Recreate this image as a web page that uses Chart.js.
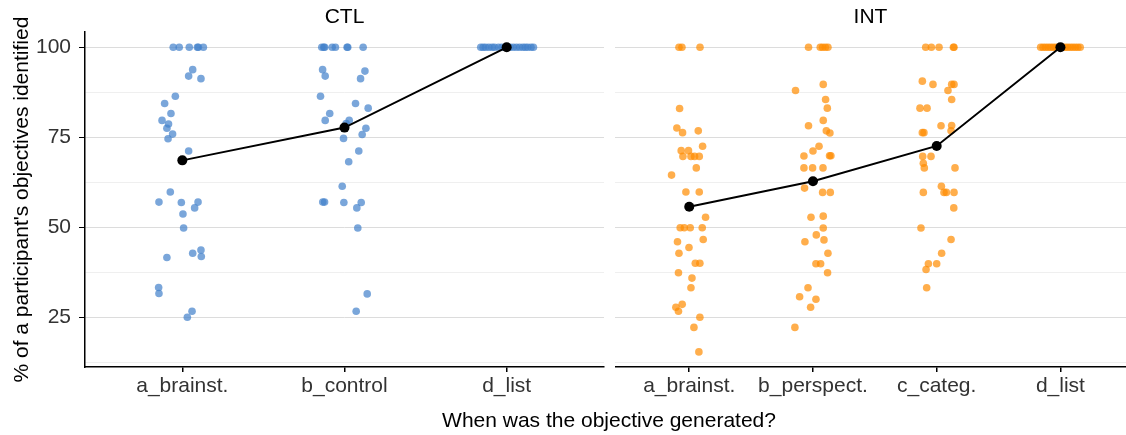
<!DOCTYPE html>
<html>
<head>
<meta charset="utf-8">
<script src="https://cdn.jsdelivr.net/npm/chart.js@4.4.1/dist/chart.umd.min.js"></script>
<style>
  html, body { margin: 0; padding: 0; background: #fff; }
  #wrap { position: relative; width: 1126px; height: 435px; overflow: hidden; }
  .panel { position: absolute; top: 0; height: 435px; }
  #xTitle { position: absolute; top: 408px; left: 609px; transform: translateX(-50%);
    font: 21px 'Liberation Sans', Arial, sans-serif; color: #000; white-space: nowrap; }
</style>
</head>
<body>
<div id="wrap">
  <div class="panel" style="left:0;width:607px"><canvas id="ctlChart"></canvas></div>
  <div class="panel" style="left:615px;width:511px"><canvas id="intChart"></canvas></div>
  <div id="xTitle">When was the objective generated?</div>
</div>
<script>
// categories per facet
const ctlCategories = ['a_brainst.', 'b_control', 'd_list'];
const intCategories = ['a_brainst.', 'b_perspect.', 'c_categ.', 'd_list'];
const yTicks = [25, 50, 75, 100];

// mean per category (black line)
const ctlMeans = [68.6, 77.7, 100];
const intMeans = [55.7, 62.8, 72.6, 100];

// participants: [jitter, % identified]
const ctlBrainst = [[-0.056,100],[-0.019,100],[0.043,100],[0.093,100],[0.099,100],[0.13,100],
  [0.064,93.8],[0.039,92.0],[0.115,91.3],[-0.043,86.4],[-0.109,84.4],[-0.070,81.6],[-0.125,79.7],
  [-0.085,78.7],[-0.095,77.5],[-0.060,75.9],[-0.088,74.6],[0.039,71.2],[-0.074,59.8],[-0.144,57.0],
  [-0.006,56.9],[0.097,57.0],[0.076,55.4],[0.004,53.7],[0.008,49.8],[-0.095,41.6],[0.064,42.8],
  [0.115,43.7],[0.117,41.9],[-0.146,33.3],[-0.144,31.6],[0.060,26.7],[0.031,25.0]];
const ctlControl = [[-0.14,100],[-0.128,100],[-0.122,100],[-0.076,100],[-0.056,100],[0.016,100],[0.02,100],[0.115,100],
  [-0.135,93.8],[-0.119,92.0],[0.126,93.4],[0.099,91.3],[-0.148,86.4],[0.068,84.4],[0.146,83.1],
  [-0.091,81.6],[-0.119,79.7],[0.029,79.7],[0.010,78.8],[0.132,77.5],[0.109,75.8],[-0.006,74.7],
  [0.088,71.2],[0.026,68.2],[-0.014,61.4],[-0.134,57.0],[-0.123,57.0],[-0.004,56.9],[0.103,56.9],
  [0.076,55.4],[0.082,49.8],[0.140,31.5],[0.072,26.7]];
const ctlList = [[-0.16,100],[-0.145,100],[-0.13,100],[-0.11,100],[-0.09,100],[-0.075,100],[-0.05,100],
  [-0.03,100],[-0.01,100],[0.005,100],[0.02,100],[0.04,100],[0.06,100],[0.08,100],[0.1,100],
  [0.115,100],[0.13,100],[0.15,100],[0.165,100]];

const intBrainst = [[-0.083,100],[-0.059,100],[0.087,100],
  [-0.078,83.0],[-0.1,77.6],[-0.054,76.3],[0.073,76.8],[0.108,72.5],[-0.065,71.3],[-0.006,71.3],
  [-0.051,69.7],[0.014,69.7],[0.043,69.7],[0.081,69.7],[0.057,66.5],[-0.143,64.5],[-0.027,59.8],
  [0.081,59.8],[0.132,52.8],[-0.073,49.9],[-0.04,49.9],[0.008,49.9],[0.105,49.9],[-0.095,46.0],
  [0.113,46.6],[-0.083,42.8],[-0.002,44.4],[0.049,40.0],[0.086,40.0],[-0.087,37.4],[0.022,35.9],
  [0.014,33.2],[-0.057,28.6],[-0.108,27.8],[-0.087,26.7],[0.086,25.0],[0.038,22.2],[0.078,15.4]];
const intPerspect = [[-0.036,100],[0.059,100],[0.078,100],[0.1,100],[0.121,100],
  [0.083,89.7],[-0.141,88.0],[0.102,85.5],[0.116,83.1],[0.083,79.7],[-0.036,78.2],[0.108,76.8],
  [0.137,76.2],[0.049,72.5],[0,71.2],[-0.073,69.8],[0.134,69.9],[0.145,69.9],[-0.073,66.5],
  [-0.003,66.5],[0.081,66.5],[-0.068,60.9],[0.078,59.7],[0.140,59.7],[-0.016,52.8],[0.083,53.1],
  [0.083,49.8],[-0.065,46.0],[0.027,47.9],[0.089,46.5],[0.121,42.8],[0.024,39.9],[0.062,39.9],
  [0.118,37.4],[-0.04,33.2],[-0.108,30.7],[0.024,30.0],[-0.019,27.8],[-0.146,22.2]];
const intCateg = [[-0.089,100],[-0.043,100],[0.019,100],[0.135,100],[0.14,100],
  [-0.116,90.6],[-0.03,89.7],[0.121,89.7],[0.14,89.7],[0.091,88.0],[0.121,85.5],[-0.135,83.1],
  [-0.078,83.1],[0.035,78.2],[0.121,78.3],[0.116,76.8],[-0.116,76.3],[-0.103,76.3],[-0.113,69.7],
  [-0.046,69.7],[-0.108,67.8],[-0.1,66.5],[0.148,66.5],[0.038,61.4],[-0.108,59.7],[0.059,59.7],
  [0.078,59.7],[0.14,59.7],[0.138,55.4],[-0.127,49.8],[0.116,46.6],[0.04,42.8],[-0.067,39.9],
  [0,39.9],[-0.086,38.3],[-0.081,33.2]];
const intList = [[-0.16,100],[-0.14,100],[-0.12,100],[-0.1,100],[-0.08,100],[-0.06,100],[-0.04,100],
  [-0.02,100],[0,100],[0.02,100],[0.04,100],[0.06,100],[0.08,100],[0.1,100],[0.12,100],
  [0.14,100],[0.16,100]];

Chart.defaults.font.family = "'Liberation Sans', Arial, sans-serif";
Chart.defaults.animation = false;

const blue = 'rgba(66, 128, 202, 0.7)';
const orange = 'rgba(255, 140, 0, 0.7)';

function toPoints(pairs, pos) {
    return pairs.map(p => ({ x: pos + p[0], y: p[1] }));
}

function makeChart(id, title, categories, groups, means, color, xMax, showY) {
    const datasets = [{
        type: 'line',
        data: means.map((m, i) => ({ x: i + 1, y: m })),
        borderColor: '#000',
        borderWidth: 2,
        backgroundColor: '#000',
        pointRadius: 5,
        pointBorderWidth: 0,
        order: 0
    }];
    groups.forEach((g, i) => {
        datasets.push({
            type: 'scatter',
            data: toPoints(g, i + 1),
            backgroundColor: color,
            borderWidth: 0,
            pointRadius: 3.8,
            order: 1
        });
    });

    return new Chart(document.getElementById(id), {
        data: { datasets },
        options: {
            responsive: true,
            maintainAspectRatio: false,
            layout: { autoPadding: false, padding: { left: 0, right: showY ? 3 : 0, top: 0, bottom: 0 } },
            plugins: {
                legend: { display: false },
                tooltip: { enabled: false },
                title: {
                    display: true,
                    text: title,
                    fullSize: false,
                    color: '#000',
                    font: { size: 21, weight: 'normal' },
                    padding: { top: 5, bottom: 2 }
                }
            },
            scales: {
                x: {
                    type: 'linear',
                    min: 0.4,
                    max: xMax,
                    afterBuildTicks: s => { s.ticks = categories.map((c, i) => ({ value: i + 1 })); },
                    afterFit: s => { s.height = 68; },
                    ticks: {
                        color: '#333',
                        font: { size: 21 },
                        padding: 2,
                        maxRotation: 0,
                        autoSkip: false,
                        callback: v => categories[v - 1]
                    },
                    grid: { drawOnChartArea: false, drawTicks: true, tickLength: 5, color: '#000', lineWidth: 1.5 },
                    border: { display: true, color: '#000', width: 1.5 }
                },
                y: {
                    type: 'linear',
                    min: 11.2,
                    max: 104.2,
                    afterBuildTicks: s => {
                        const t = [];
                        yTicks.forEach(v => { t.push({ value: v - 12.5 }, { value: v }); });
                        s.ticks = t;
                    },
                    afterFit: s => { s.width = showY ? 85 : 0; },
                    title: {
                        display: showY,
                        text: "% of a participant's objectives identified",
                        color: '#000',
                        font: { size: 21 },
                        padding: { top: 10, bottom: 0 }
                    },
                    ticks: {
                        display: showY,
                        color: '#333',
                        font: { size: 21 },
                        padding: 8,
                        callback: v => (yTicks.includes(v) ? String(v) : '')
                    },
                    grid: {
                        drawTicks: showY,
                        tickLength: 6,
                        lineWidth: 1,
                        color: c => (c.tick && yTicks.includes(c.tick.value) ? '#dcdcdc' : '#efefef'),
                        tickColor: c => (c.tick && yTicks.includes(c.tick.value) ? '#000' : 'rgba(0,0,0,0)')
                    },
                    border: { display: showY, color: '#000', width: 1.5 }
                }
            }
        }
    });
}

makeChart('ctlChart', 'CTL', ctlCategories, [ctlBrainst, ctlControl, ctlList], ctlMeans, blue, 3.6, true);
makeChart('intChart', 'INT', intCategories, [intBrainst, intPerspect, intCateg, intList], intMeans, orange, 4.53, false);
</script>
</body>
</html>
